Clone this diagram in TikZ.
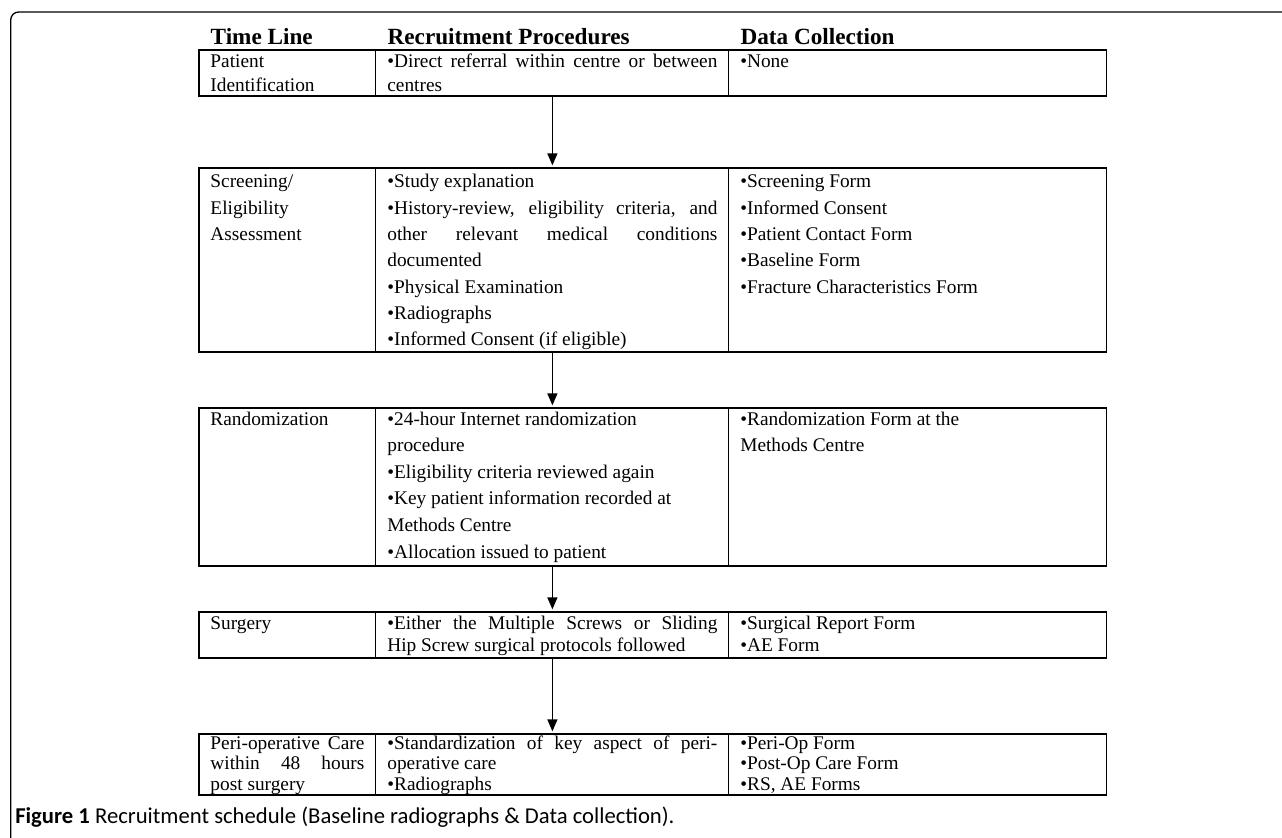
\documentclass[tikz,border=0pt]{standalone}
\usepackage{fontspec}
\setmainfont{Liberation Serif}
\newfontfamily\capfont{Carlito}
\usepackage{tikz}
\usetikzlibrary{positioning}
\usetikzlibrary{arrows.meta}
\tolerance=10000
\hbadness=10000

\begin{document}
\begin{tikzpicture} [x=0.75pt, y=-0.75pt,
        cell/.style = {draw, line width=0.8pt, rectangle, outer sep=0pt, inner ysep=0pt, inner xsep=8.6pt, align=justify},
        colA/.style = {cell, text width=115.5pt},
        colB/.style = {cell, text width=247.5pt},
        colC/.style = {cell, text width=266pt},
        rowfmt/.style n args = {3}{text height=#1, text depth=#2, font=\fontsize{14.5pt}{#3}\selectfont},
        head/.style = {anchor=base west, inner sep=0pt, font=\fontsize{17.4pt}{20pt}\selectfont\bfseries},
        flow/.style = {-{Triangle[length=9pt,width=7.5pt]}, line width=1.1pt, shorten >=2pt}]
        \useasboundingbox (0,0) rectangle (1282,838);

        %Rahmen
        \draw[line width=1pt, rounded corners=6pt] (10.7,838) -- (10.7,12) -- (1282,12);

        %Zeilen
        \node[colA, rowfmt={13pt}{21.5pt}{18pt}, anchor=north west] (00) at (199,50) {Patient\\Identification};
        \node[colB, rowfmt={13pt}{21.5pt}{18pt}] (01) [right = 0pt of 00] {•Direct referral within centre or between\linebreak centres};
        \node[colC, rowfmt={13pt}{21.5pt}{18pt}] (02) [right = 0pt of 01] {•None};

        \node[colB, rowfmt={15pt}{123pt}{19.7pt}] (11) [below = 54pt of 01] {•Study explanation\\•History-review, eligibility criteria, and\linebreak other relevant medical conditions\linebreak documented\\•Physical Examination\\•Radiographs\\•Informed Consent (if eligible)};
        \node[colA, rowfmt={15pt}{123pt}{19.7pt}] (10) [left = 0pt of 11] {Screening/\\Eligibility\\Assessment};
        \node[colC, rowfmt={15pt}{123pt}{19.7pt}] (12) [right = 0pt of 11] {•Screening Form\\•Informed Consent\\•Patient Contact Form\\•Baseline Form\\•Fracture Characteristics Form};

        \node[colB, rowfmt={13pt}{105.5pt}{19.9pt}] (21) [below = 42pt of 11] {•24-hour Internet randomization\\procedure\\•Eligibility criteria reviewed again\\•Key patient information recorded at\\Methods Centre\\•Allocation issued to patient};
        \node[colA, rowfmt={13pt}{105.5pt}{19.9pt}] (20) [left = 0pt of 21] {Randomization};
        \node[colC, rowfmt={13pt}{105.5pt}{19.9pt}] (22) [right = 0pt of 21] {•Randomization Form at the\\Methods Centre};

        \node[colB, rowfmt={13pt}{21.5pt}{16.9pt}] (31) [below = 34.5pt of 21] {•Either the Multiple Screws or Sliding\linebreak Hip Screw surgical protocols followed};
        \node[colA, rowfmt={13pt}{21.5pt}{16.9pt}] (30) [left = 0pt of 31] {Surgery};
        \node[colC, rowfmt={13pt}{21.5pt}{16.9pt}] (32) [right = 0pt of 31] {•Surgical Report Form\\•AE Form};

        \node[colB, rowfmt={11.25pt}{34.5pt}{15.4pt}] (41) [below = 57pt of 31] {•Standardization of key aspect of peri-\linebreak operative care\\•Radiographs};
        \node[colA, rowfmt={11.25pt}{34.5pt}{15.4pt}] (40) [left = 0pt of 41] {Peri-operative Care\linebreak within 48 hours\linebreak post surgery};
        \node[colC, rowfmt={11.25pt}{34.5pt}{15.4pt}] (42) [right = 0pt of 41] {•Peri-Op Form\\•Post-Op Care Form\\•RS, AE Forms};

        %Kopf
        \node[head] (h0) at ([xshift=8.6pt, yshift=3.75pt]00.north west) {Time Line};
        \node[head] (h1) at ([xshift=8.6pt, yshift=3.75pt]01.north west) {Recruitment Procedures};
        \node[head] (h2) at ([xshift=8.6pt, yshift=3.75pt]02.north west) {Data Collection};

        %Pfeile
        \draw[flow] (01) -- (11);
        \draw[flow] (11) -- (21);
        \draw[flow] (21) -- (31);
        \draw[flow] (31) -- (41);

        %Titel
        \node[anchor=base west, inner sep=0pt, font=\capfont\fontsize{17pt}{20pt}\selectfont] (cap) at (15,823) {\textbf{Figure 1} Recruitment schedule (Baseline radiographs \& Data collection).};
    \end{tikzpicture}
\end{document}
